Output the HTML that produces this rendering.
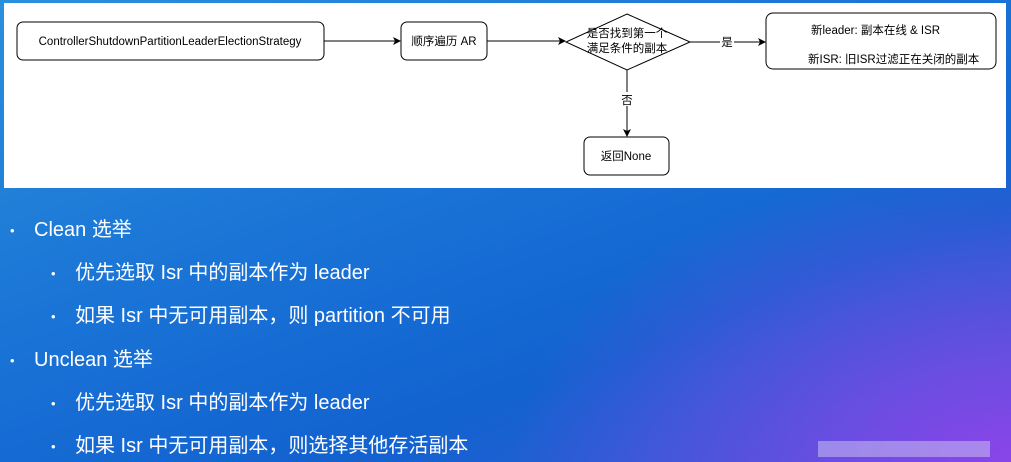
<!DOCTYPE html>
<html><head><meta charset="utf-8"><style>
html,body{margin:0;padding:0}
body{width:1011px;height:462px;overflow:hidden;position:relative;font-family:"Liberation Sans","Noto Sans CJK SC",sans-serif;
background:radial-gradient(ellipse 500px 300px at 1011px 462px,#8a45e8 0%,rgba(120,70,230,0) 100%),linear-gradient(160deg,#2b90dc 0%,#1a74d6 40%,#1262d0 70%,#3a5ad8 100%);}
.panel{position:absolute;left:4px;top:3px;width:1002px;height:185px;background:#fff}
.t{position:absolute;color:#fff;font-size:20px;white-space:nowrap;line-height:24px}
.b{position:absolute;color:#fff;font-size:13px;line-height:24px}
</style></head><body>
<div class="panel"></div>
<svg style="position:absolute;left:0;top:0" width="1011" height="190" font-family="Liberation Sans,Noto Sans CJK SC,sans-serif" font-size="11.5">
<defs><marker id="a" markerWidth="8" markerHeight="8" refX="7" refY="4" orient="auto"><path d="M0,0 L8,4 L0,8 L2,4z" fill="#000"/></marker></defs>
<g fill="#fff" stroke="#000" stroke-width="1">
<rect x="17" y="22" width="307" height="38" rx="6"/>
<rect x="401" y="22" width="86" height="38" rx="6"/>
<polygon points="627,14 690,42 627,70 566,42"/>
<rect x="766" y="13" width="230" height="56" rx="7"/>
<rect x="584" y="137" width="85" height="38" rx="6"/>
</g>
<g stroke="#000" stroke-width="1" marker-end="url(#a)">
<line x1="324" y1="41" x2="400" y2="41"/>
<line x1="487" y1="41" x2="565" y2="41"/>
<line x1="690" y1="42" x2="765" y2="42"/>
<line x1="627" y1="70" x2="627" y2="136"/>
</g>
<g fill="#000">
<text x="170" y="45" text-anchor="middle">ControllerShutdownPartitionLeaderElectionStrategy</text>
<text x="444" y="45" text-anchor="middle">顺序遍历 AR</text>
<text x="627" y="37" text-anchor="middle">是否找到第一个</text>
<text x="627" y="52" text-anchor="middle">满足条件的副本</text>
<rect x="720" y="34" width="14" height="14" fill="#fff"/>
<text x="727" y="46" text-anchor="middle">是</text>
<rect x="620" y="92" width="14" height="14" fill="#fff"/>
<text x="627" y="104" text-anchor="middle">否</text>
<text x="811" y="34">新leader: 副本在线 &amp; ISR</text>
<text x="808" y="63">新ISR: 旧ISR过滤正在关闭的副本</text>
<text x="626" y="160" text-anchor="middle">返回None</text>
</g>
</svg>
<div class="b" style="left:10px;top:219px">•</div><div class="t" style="left:34px;top:218px">Clean 选举</div>
<div class="b" style="left:51px;top:262px">•</div><div class="t" style="left:75px;top:261px">优先选取 Isr 中的副本作为 leader</div>
<div class="b" style="left:51px;top:305px">•</div><div class="t" style="left:75px;top:304px">如果 Isr 中无可用副本，则 partition 不可用</div>
<div class="b" style="left:10px;top:349px">•</div><div class="t" style="left:34px;top:348px">Unclean 选举</div>
<div class="b" style="left:51px;top:392px">•</div><div class="t" style="left:75px;top:391px">优先选取 Isr 中的副本作为 leader</div>
<div class="b" style="left:51px;top:435px">•</div><div class="t" style="left:75px;top:434px">如果 Isr 中无可用副本，则选择其他存活副本</div>
<div style="position:absolute;left:818px;top:441px;width:172px;height:16px;background:rgba(200,190,240,0.55)"></div>
</body></html>
